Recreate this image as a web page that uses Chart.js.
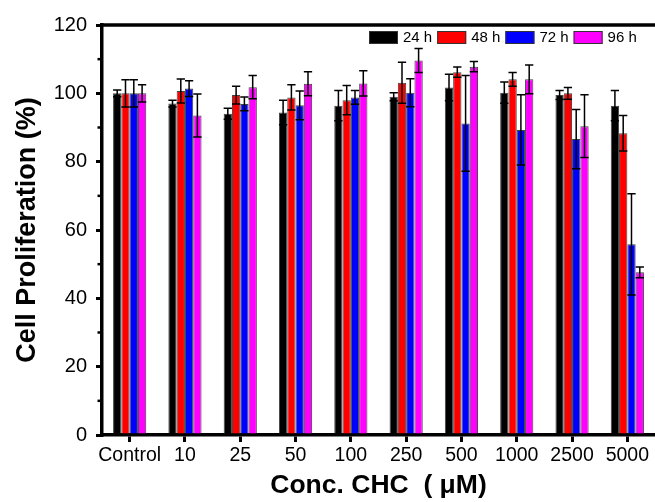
<!DOCTYPE html>
<html>
<head>
<meta charset="utf-8">
<script src="https://cdn.jsdelivr.net/npm/chart.js@4"></script>
<style>
html,body{margin:0;padding:0;background:#fff;overflow:hidden;}
canvas{display:block;}
</style>
</head>
<body>
<canvas id="c" width="655" height="502" style="width:655px;height:502px"></canvas>
<script>
const categories = ['Control', '10', '25', '50', '100', '250', '500', '1000', '2500', '5000'];
const seriesLabels = ['24 h', '48 h', '72 h', '96 h'];
const h24 = [100.0, 97.0, 94.0, 94.4, 96.4, 99.0, 101.7, 100.2, 99.5, 96.4];
const h48 = [100.0, 100.7, 99.5, 98.8, 98.0, 103.1, 106.2, 104.1, 100.0, 88.3];
const h72 = [100.0, 101.4, 96.9, 96.5, 98.8, 100.2, 91.2, 89.3, 86.6, 55.8];
const h96 = [100.0, 93.5, 101.8, 102.8, 102.9, 109.6, 107.8, 104.1, 90.4, 47.6];
const err24 = [1.0, 1.0, 1.6, 3.6, 4.4, 1.2, 3.9, 3.1, 1.3, 4.4];
const err48 = [4.0, 3.5, 2.6, 3.7, 4.3, 6.0, 1.5, 2.0, 1.7, 5.2];
const err72 = [4.0, 2.3, 2.0, 4.2, 2.0, 4.1, 14.0, 10.3, 8.7, 14.8];
const err96 = [2.5, 6.3, 3.4, 3.5, 3.7, 3.5, 1.5, 4.2, 9.2, 1.6];
const yTicks = [0, 20, 40, 60, 80, 100, 120];
const yMinorTicks = [10, 30, 50, 70, 90, 110];
const colors = ['#000000', '#ff0000', '#0000ff', '#ff00ff'];

const FONT = 'Arial, "Liberation Sans", sans-serif';
const seriesValues = [h24, h48, h72, h96];
const seriesErrors = [err24, err48, err72, err96];

const errorBars = {
  id: 'errorBars',
  afterDatasetsDraw(chart) {
    const ctx = chart.ctx;
    const y = chart.scales.y;
    ctx.save();
    ctx.strokeStyle = '#000';
    ctx.lineWidth = 1.5;
    chart.data.datasets.forEach((ds, di) => {
      const meta = chart.getDatasetMeta(di);
      meta.data.forEach((bar, i) => {
        const v = ds.data[i], e = ds.errors[i];
        const yt = y.getPixelForValue(v + e), yb = y.getPixelForValue(v - e);
        const hw = bar.width / 2;
        ctx.beginPath();
        ctx.moveTo(bar.x, yt); ctx.lineTo(bar.x, yb);
        ctx.moveTo(bar.x - hw, yt); ctx.lineTo(bar.x + hw, yt);
        ctx.moveTo(bar.x - hw, yb); ctx.lineTo(bar.x + hw, yb);
        ctx.stroke();
      });
    });
    ctx.restore();
  }
};

const frame = {
  id: 'frame',
  afterDraw(chart) {
    const ctx = chart.ctx;
    const a = chart.chartArea;
    const y = chart.scales.y;
    ctx.save();
    ctx.strokeStyle = '#000';
    ctx.lineWidth = 3.5;
    ctx.beginPath();
    ctx.moveTo(a.left - 1.75, a.top);
    ctx.lineTo(a.right, a.top);
    ctx.stroke();
    // minor ticks
    ctx.lineWidth = 2.5;
    yMinorTicks.forEach(v => {
      const py = y.getPixelForValue(v);
      ctx.beginPath();
      ctx.moveTo(a.left - 1.75, py);
      ctx.lineTo(a.left - 4.5, py);
      ctx.stroke();
    });
    // legend
    ctx.font = '15px ' + FONT;
    ctx.textBaseline = 'middle';
    ctx.textAlign = 'left';
    const startX = a.right - 286;
    const boxY = a.top + 6;
    chart.data.datasets.forEach((ds, i) => {
      const x = startX + i * 68.2;
      ctx.fillStyle = ds.backgroundColor;
      ctx.fillRect(x, boxY, 29, 13);
      ctx.lineWidth = 1;
      ctx.strokeStyle = '#333';
      ctx.strokeRect(x + 0.5, boxY + 0.5, 28, 12);
      ctx.fillStyle = '#000';
      ctx.fillText(ds.label, x + 34, boxY + 7);
    });
    ctx.restore();
  }
};

new Chart(document.getElementById('c'), {
  type: 'bar',
  data: {
    labels: categories,
    datasets: seriesLabels.map((lab, i) => ({
      label: lab,
      data: seriesValues[i],
      errors: seriesErrors[i],
      backgroundColor: colors[i],
      borderColor: '#444',
      borderWidth: 1,
      categoryPercentage: 0.6,
      barPercentage: 1.0
    }))
  },
  options: {
    responsive: false,
    devicePixelRatio: 1,
    animation: false,
    layout: { padding: { left: 0, right: 0, top: 25, bottom: 0 } },
    plugins: { legend: { display: false }, tooltip: { enabled: false } },
    scales: {
      x: {
        type: 'category',
        offset: true,
        afterFit(s) { s.height = 67; },
        grid: { offset: false, drawOnChartArea: false, color: '#000', lineWidth: 3, tickLength: 7 },
        border: { display: true, color: '#000', width: 3.5 },
        ticks: { color: '#000', font: { family: FONT, size: 19.5 }, padding: 2, maxRotation: 0, autoSkip: false },
        title: { display: true, text: 'Conc. CHC  ( μM)', color: '#000', font: { family: FONT, size: 26.5, weight: 'bold' }, padding: { top: 0, bottom: 0 } }
      },
      y: {
        min: 0, max: 120,
        afterFit(s) { s.width = 102; },
        afterBuildTicks(s) { s.ticks = yTicks.map(v => ({ value: v })); },
        grid: { drawOnChartArea: false, color: '#000', lineWidth: 3, tickLength: 6 },
        border: { display: true, color: '#000', width: 3.5 },
        ticks: { color: '#000', font: { family: FONT, size: 20 }, padding: 9 },
        title: { display: true, text: 'Cell Proliferation (%)', color: '#000', font: { family: FONT, size: 27, weight: 'bold' }, padding: { top: 11, bottom: 0 } }
      }
    }
  },
  plugins: [errorBars, frame]
});
</script>
</body>
</html>
